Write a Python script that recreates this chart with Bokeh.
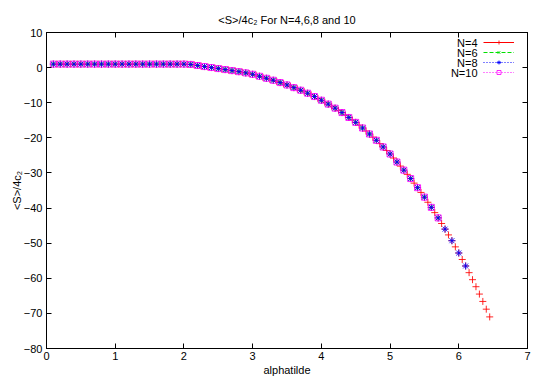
from bokeh.plotting import figure
from bokeh.models import (LinearAxis, Legend, LegendItem, Label, FixedTicker,
                          Range1d, ColumnDataSource)
from bokeh.embed import file_html
from bokeh.resources import INLINE

# ---------------- data ----------------
alpha_n4 = [
    0.10, 0.15, 0.20, 0.25, 0.30, 0.35, 0.40, 0.45, 0.50, 0.55,
    0.60, 0.65, 0.70, 0.75, 0.80, 0.85, 0.90, 0.95, 1.00, 1.05,
    1.10, 1.15, 1.20, 1.25, 1.30, 1.35, 1.40, 1.45, 1.50, 1.55,
    1.60, 1.65, 1.70, 1.75, 1.80, 1.85, 1.90, 1.95, 2.00, 2.05,
    2.10, 2.15, 2.20, 2.25, 2.30, 2.35, 2.40, 2.45, 2.50, 2.55,
    2.60, 2.65, 2.70, 2.75, 2.80, 2.85, 2.90, 2.95, 3.00, 3.05,
    3.10, 3.15, 3.20, 3.25, 3.30, 3.35, 3.40, 3.45, 3.50, 3.55,
    3.60, 3.65, 3.70, 3.75, 3.80, 3.85, 3.90, 3.95, 4.00, 4.05,
    4.10, 4.15, 4.20, 4.25, 4.30, 4.35, 4.40, 4.45, 4.50, 4.55,
    4.60, 4.65, 4.70, 4.75, 4.80, 4.85, 4.90, 4.95, 5.00, 5.05,
    5.10, 5.15, 5.20, 5.25, 5.30, 5.35, 5.40, 5.45, 5.50, 5.55,
    5.60, 5.65, 5.70, 5.75, 5.80, 5.85, 5.90, 5.95, 6.00, 6.05,
    6.10, 6.15, 6.20, 6.25, 6.30, 6.35, 6.40, 6.45,
]
s_n4 = [
    1.0, 1.0, 1.0, 1.0, 1.0, 1.0, 1.0, 1.0, 1.0, 1.0,
    1.0, 1.0, 1.0, 1.0, 1.0, 1.0, 1.0, 1.0, 1.0, 1.0,
    1.0, 1.0, 1.0, 1.0, 1.0, 1.0, 1.0, 1.0, 1.0, 1.0,
    1.0, 1.0, 1.0, 1.0, 1.0, 1.0, 1.0, 1.0, 1.0, 0.95,
    0.9, 0.75, 0.6, 0.45, 0.3, 0.16, 0.02, -0.13, -0.27, -0.42,
    -0.56, -0.7, -0.85, -1.0, -1.15, -1.32, -1.5, -1.7, -1.9, -2.18,
    -2.47, -2.75, -3.04, -3.32, -3.6, -3.93, -4.26, -4.6, -4.94, -5.32,
    -5.7, -6.07, -6.45, -6.87, -7.3, -7.77, -8.24, -8.77, -9.3, -9.85,
    -10.4, -10.97, -11.55, -12.17, -12.8, -13.5, -14.2, -14.9, -15.6, -16.4,
    -17.2, -18.05, -18.9, -19.8, -20.7, -21.65, -22.6, -23.6, -24.6, -25.75,
    -26.9, -28.05, -29.2, -30.4, -31.6, -32.9, -34.2, -35.55, -36.9, -38.35,
    -39.8, -41.3, -42.8, -44.4, -46.0, -47.65, -49.3, -51.05, -52.8, -54.65,
    -56.5, -58.4, -60.4, -62.4, -64.5, -66.6, -68.8, -71.0,
]

alpha_n6 = [
    0.1, 0.2, 0.3, 0.4, 0.5, 0.6, 0.7, 0.8, 0.9, 1.0,
    1.1, 1.2, 1.3, 1.4, 1.5, 1.6, 1.7, 1.8, 1.9, 2.0,
    2.1, 2.2, 2.3, 2.4, 2.5, 2.6, 2.7, 2.8, 2.9, 3.0,
    3.1, 3.2, 3.3, 3.4, 3.5, 3.6, 3.7, 3.8, 3.9, 4.0,
    4.1, 4.2, 4.3, 4.4, 4.5, 4.6, 4.7, 4.8, 4.9, 5.0,
    5.1, 5.2, 5.3, 5.4, 5.5, 5.6, 5.7,
]
s_n6 = [
    1.0, 1.0, 1.0, 1.0, 1.0, 1.0, 1.0, 1.0, 1.0, 1.0,
    1.0, 1.0, 1.0, 1.0, 1.0, 1.0, 1.0, 1.0, 1.0, 1.0,
    0.9, 0.6, 0.3, 0.02, -0.27, -0.56, -0.85, -1.15, -1.5, -1.9,
    -2.47, -3.04, -3.6, -4.26, -4.94, -5.7, -6.45, -7.3, -8.24, -9.3,
    -10.4, -11.55, -12.8, -14.2, -15.6, -17.2, -18.9, -20.7, -22.6, -24.6,
    -26.9, -29.2, -31.6, -34.2, -36.9, -39.8, -42.8,
]

alpha_n8 = [
    0.1, 0.2, 0.3, 0.4, 0.5, 0.6, 0.7, 0.8, 0.9, 1.0,
    1.1, 1.2, 1.3, 1.4, 1.5, 1.6, 1.7, 1.8, 1.9, 2.0,
    2.1, 2.2, 2.3, 2.4, 2.5, 2.6, 2.7, 2.8, 2.9, 3.0,
    3.1, 3.2, 3.3, 3.4, 3.5, 3.6, 3.7, 3.8, 3.9, 4.0,
    4.1, 4.2, 4.3, 4.4, 4.5, 4.6, 4.7, 4.8, 4.9, 5.0,
    5.1, 5.2, 5.3, 5.4, 5.5, 5.6, 5.7, 5.8, 5.9, 6.0,
    6.1,
]
s_n8 = [
    1.0, 1.0, 1.0, 1.0, 1.0, 1.0, 1.0, 1.0, 1.0, 1.0,
    1.0, 1.0, 1.0, 1.0, 1.0, 1.0, 1.0, 1.0, 1.0, 1.0,
    0.9, 0.6, 0.3, 0.02, -0.27, -0.56, -0.85, -1.15, -1.5, -1.9,
    -2.47, -3.04, -3.6, -4.26, -4.94, -5.7, -6.45, -7.3, -8.24, -9.3,
    -10.4, -11.55, -12.8, -14.2, -15.6, -17.2, -18.9, -20.7, -22.6, -24.6,
    -26.9, -29.2, -31.6, -34.2, -36.9, -39.8, -42.8, -46.0, -49.3, -52.8,
    -56.5,
]

alpha_n10 = [
    0.1, 0.2, 0.3, 0.4, 0.5, 0.6, 0.7, 0.8, 0.9, 1.0,
    1.1, 1.2, 1.3, 1.4, 1.5, 1.6, 1.7, 1.8, 1.9, 2.0,
    2.1, 2.2, 2.3, 2.4, 2.5, 2.6, 2.7, 2.8, 2.9, 3.0,
    3.1, 3.2, 3.3, 3.4, 3.5, 3.6, 3.7, 3.8, 3.9, 4.0,
    4.1, 4.2, 4.3, 4.4, 4.5, 4.6, 4.7, 4.8, 4.9, 5.0,
    5.1, 5.2, 5.3, 5.4, 5.5, 5.6, 5.7,
]
s_n10 = [
    1.0, 1.0, 1.0, 1.0, 1.0, 1.0, 1.0, 1.0, 1.0, 1.0,
    1.0, 1.0, 1.0, 1.0, 1.0, 1.0, 1.0, 1.0, 1.0, 1.0,
    0.9, 0.6, 0.3, 0.02, -0.27, -0.56, -0.85, -1.15, -1.5, -1.9,
    -2.47, -3.04, -3.6, -4.26, -4.94, -5.7, -6.45, -7.3, -8.24, -9.3,
    -10.4, -11.55, -12.8, -14.2, -15.6, -17.2, -18.9, -20.7, -22.6, -24.6,
    -26.9, -29.2, -31.6, -34.2, -36.9, -39.8, -42.8,
]

series_labels = ["N=4", "N=6", "N=8", "N=10"]
x_ticks = [0, 1, 2, 3, 4, 5, 6, 7]
y_ticks = [-80, -70, -60, -50, -40, -30, -20, -10, 0, 10]

# ---------------- styling ----------------
FONT = "Liberation Sans"
FS = "11px"

p = figure(width=545, height=382,
           x_range=Range1d(0, 7), y_range=Range1d(-80, 10),
           output_backend="svg", toolbar_location=None,
           min_border_left=46, min_border_right=18,
           min_border_top=32, min_border_bottom=34,
           title="<S>/4c\u2082 For N=4,6,8 and 10")
p.title.align = "center"
p.title.text_font = FONT
p.title.text_font_size = FS
p.title.text_font_style = "normal"
p.title.text_color = "black"
p.title.standoff = 14

p.xgrid.visible = False
p.ygrid.visible = False
p.outline_line_color = "black"
p.outline_line_width = 1
p.background_fill_color = "white"
p.border_fill_color = "white"


def style_axis(ax, ticks, show_labels):
    ax.ticker = FixedTicker(ticks=ticks)
    ax.major_tick_in = 5
    ax.major_tick_out = 0
    ax.minor_tick_line_color = None
    ax.axis_line_color = "black"
    ax.major_tick_line_color = "black"
    ax.major_label_text_font = FONT
    ax.axis_label_text_font = FONT
    ax.axis_label_text_font_size = FS
    ax.axis_label_text_font_style = "normal"
    ax.axis_label_text_color = "black"
    if show_labels:
        ax.major_label_text_font_size = FS
        ax.major_label_text_color = "black"
    else:
        # mirror axis: ticks only, no labels drawn
        ax.major_label_text_font_size = "1px"
        ax.major_label_text_color = None
        ax.major_label_standoff = 0


style_axis(p.xaxis[0], x_ticks, True)
style_axis(p.yaxis[0], y_ticks, True)
p.xaxis[0].axis_label = "alphatilde"
p.xaxis[0].major_label_standoff = 3
p.xaxis[0].axis_label_standoff = 1
p.yaxis[0].axis_label = "<S>/4c\u2082"
p.yaxis[0].major_label_standoff = 4
p.yaxis[0].axis_label_standoff = -2

top_ax = LinearAxis()
right_ax = LinearAxis()
style_axis(top_ax, x_ticks, False)
style_axis(right_ax, y_ticks, False)
p.add_layout(top_ax, "above")
p.add_layout(right_ax, "right")

# ---------------- data glyphs ----------------
series = [
    (alpha_n4, s_n4, "#ff0000", "cross", "solid", 7),
    (alpha_n6, s_n6, "#00e000", "x", "4 2", 7),
    (alpha_n8, s_n8, "#0000ff", "asterisk", "1 2", 7),
    (alpha_n10, s_n10, "#ff00ff", "square", "1 2", 6),
]

nan = float("nan")
items = []
for (xs, ys, col, mk, dash, sz), lab in zip(series, series_labels):
    src = ColumnDataSource(dict(x=xs, y=ys))
    sr = p.scatter("x", "y", source=src, marker=mk, size=sz,
                   line_color=col, fill_color=None, line_width=1, line_alpha=0.85)
    # legend-only sample line (no visible data)
    lr = p.line(x=[nan, nan], y=[nan, nan], line_color=col,
                line_dash=dash, line_width=1)
    items.append(LegendItem(label=" ", renderers=[lr, sr]))

legend = Legend(items=items, location="top_right", margin=5, padding=0,
                spacing=0, glyph_width=31, glyph_height=10, label_height=10,
                label_width=8, label_standoff=0, label_text_font_size="1px",
                border_line_color=None, background_fill_alpha=0)
p.add_layout(legend)

# legend texts (to the left of the samples, as in the reference)
for i, lab in enumerate(series_labels):
    p.add_layout(Label(x=431, y=306 - 10 * i, x_units="screen", y_units="screen",
                       text=lab, text_align="right", text_baseline="middle",
                       text_font=FONT, text_font_size=FS, text_color="black"))

open("out.html", "w").write(file_html(p, INLINE))
